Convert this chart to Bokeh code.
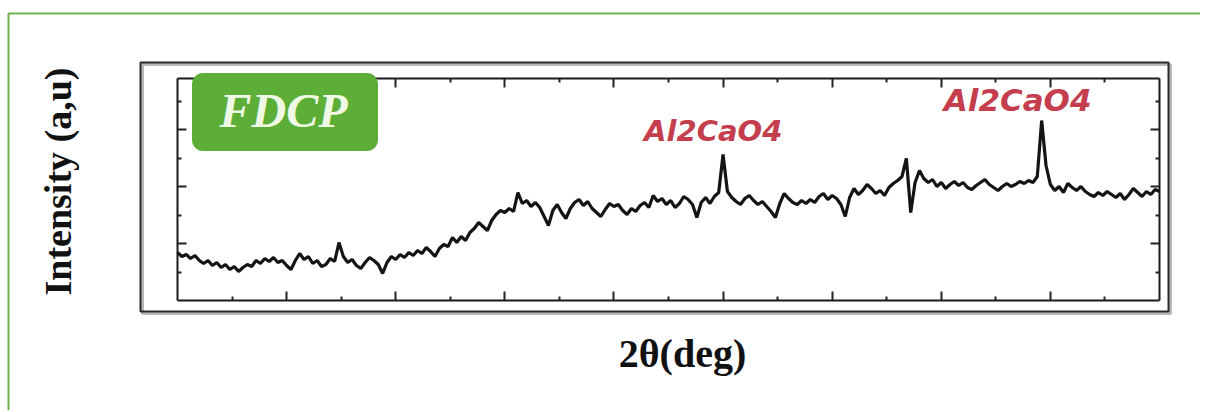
import numpy as np
from bokeh.plotting import figure
from bokeh.models import Range1d, FixedTicker, LinearAxis, BoxAnnotation, Label
from bokeh.embed import file_html
from bokeh.resources import INLINE

# ---- data -------------------------------------------------------------
two_theta = np.round(np.arange(10.0, 100.0001, 0.4), 1)  # scan angles (deg)
intensity = [
    48, 44, 46, 42, 45, 40, 37, 40, 35, 38, 33, 36, 31, 34, 29, 33, 36, 34, 40, 37,
    42, 39, 43, 38, 40, 35, 31, 40, 47, 41, 44, 37, 40, 34, 36, 42, 39, 58, 44, 38,
    41, 35, 32, 38, 43, 40, 36, 27, 38, 44, 41, 46, 43, 48, 45, 50, 47, 53, 49, 44,
    52, 56, 54, 63, 58, 64, 60, 68, 72, 78, 74, 70, 80, 86, 90, 88, 92, 89, 108, 97,
    100, 94, 98, 93, 84, 75, 90, 96, 88, 82, 92, 98, 101, 95, 99, 92, 88, 84, 91, 97,
    94, 96, 90, 86, 92, 89, 95, 98, 93, 105, 99, 102, 96, 100, 93, 97, 104, 101, 96, 83,
    98, 103, 97, 104, 108, 146, 109, 103, 99, 96, 102, 105, 100, 96, 99, 94, 89, 83, 97, 107,
    102, 98, 96, 100, 97, 101, 98, 104, 107, 101, 105, 102, 96, 84, 103, 112, 106, 110, 116, 112,
    107, 110, 105, 113, 117, 120, 124, 142, 88, 118, 130, 122, 118, 121, 114, 118, 112, 116, 119, 115,
    118, 113, 111, 115, 118, 121, 116, 113, 110, 114, 117, 114, 116, 119, 117, 120, 118, 124, 180, 135,
    116, 110, 114, 108, 117, 113, 110, 114, 109, 106, 104, 108, 105, 109, 106, 103, 107, 101, 106, 112,
    108, 104, 109, 106, 111, 109,
]
x_min, x_max = 10, 100
y_min, y_max = 0, 222
x_major = [20, 30, 40, 50, 60, 70, 80, 90]
x_minor = [15, 25, 35, 45, 55, 65, 75, 85, 95]
y_major = [57, 114, 171]
y_minor = [28.5, 85.5, 142.5, 199.5]
peak_names = ["Al2CaO4", "Al2CaO4"]
peak_label_x = [59.1, 87.0]
peak_label_y = [170, 201]
peak_label_size = ["29px", "31px"]
sample_name = "FDCP"
x_title = "2θ(deg)"
y_title = "Intensity (a,u)"

# ---- layout (canvas pixels) --------------------------------------------
W, H = 1200, 410
IN_L, IN_R, IN_T, IN_B = 177, 1159, 78, 300   # inner plotting box
ppx = (IN_R - IN_L) / (x_max - x_min)
ppy = (IN_B - IN_T) / (y_max - y_min)
xr = Range1d(x_min - IN_L / ppx, x_max + (W - IN_R) / ppx)
yr = Range1d(y_min - (H - IN_B) / ppy, y_max + IN_T / ppy)

p = figure(width=W, height=H, output_backend="svg", toolbar_location=None,
           x_range=xr, y_range=yr, x_axis_type=None, y_axis_type=None,
           min_border=0)
p.grid.visible = False
p.background_fill_color = "white"
p.border_fill_color = "white"
p.outline_line_color = None

def make_axis(loc, bounds, ticks, tick_len, with_line):
    # only minor ticks are used, so no tick labels are produced
    ax = LinearAxis(fixed_location=loc, bounds=bounds,
                    ticker=FixedTicker(ticks=[], minor_ticks=ticks))
    ax.major_tick_line_color = None
    ax.minor_tick_in = tick_len
    ax.minor_tick_out = 0
    ax.minor_tick_line_width = 2
    ax.minor_tick_line_color = "#222"
    ax.axis_line_color = "#1a1a1a" if with_line else None
    ax.axis_line_width = 2
    return ax

for loc, side in [(y_min, "below"), (y_max, "above")]:
    p.add_layout(make_axis(loc, (x_min, x_max), x_major, 9, True), side)
    p.add_layout(make_axis(loc, (x_min, x_max), x_minor, 4, False), side)
for loc, side in [(x_min, "left"), (x_max, "right")]:
    p.add_layout(make_axis(loc, (y_min, y_max), y_major, 9, True), side)
    p.add_layout(make_axis(loc, (y_min, y_max), y_minor, 4, False), side)

def cbox(l, r, t, b, **kw):
    return BoxAnnotation(left=l, right=r, top=t, bottom=b,
                         left_units="canvas", right_units="canvas",
                         top_units="canvas", bottom_units="canvas", **kw)

# page border (green) and framed panel with shadow
p.add_layout(cbox(8, 1600, 13, 900, fill_alpha=0, line_color="#6db24a",
                  line_alpha=1, line_width=2))
p.add_layout(cbox(142, 1170, 64, 313, fill_alpha=0, line_color="#9a9a9a",
                  line_alpha=0.7, line_width=3))
p.add_layout(cbox(140, 1168, 62, 311, fill_alpha=0, line_color="#2a2a2a",
                  line_alpha=1, line_width=2))

p.line(two_theta, intensity, line_color="#141414", line_width=3.2)

p.add_layout(cbox(192, 377, 73, 150, fill_color="#5dae37", fill_alpha=1,
                  line_color="#5dae37", line_alpha=1, border_radius=10))
p.add_layout(Label(x=283, y=110, x_units="canvas", y_units="canvas", text=sample_name,
                   text_font="Liberation Serif", text_font_style="bold italic",
                   text_font_size="48px", text_color="#eef8e4",
                   text_align="center", text_baseline="middle"))

for name, lx, ly, fs in zip(peak_names, peak_label_x, peak_label_y, peak_label_size):
    p.add_layout(Label(x=lx, y=ly, text=name, text_font="DejaVu Sans",
                       text_font_style="bold italic", text_font_size=fs,
                       text_color="#c43e4e", text_align="center", text_baseline="middle"))

p.add_layout(Label(x=682, y=353, x_units="canvas", y_units="canvas", text=x_title,
                   text_font="Liberation Serif", text_font_style="bold",
                   text_font_size="40px", text_color="#111",
                   text_align="center", text_baseline="middle"))
p.add_layout(Label(x=57, y=181, x_units="canvas", y_units="canvas", text=y_title,
                   angle=np.pi / 2, text_font="Liberation Serif", text_font_style="bold",
                   text_font_size="38px", text_color="#111",
                   text_align="center", text_baseline="middle"))

open("out.html", "w").write(file_html(p, INLINE))
